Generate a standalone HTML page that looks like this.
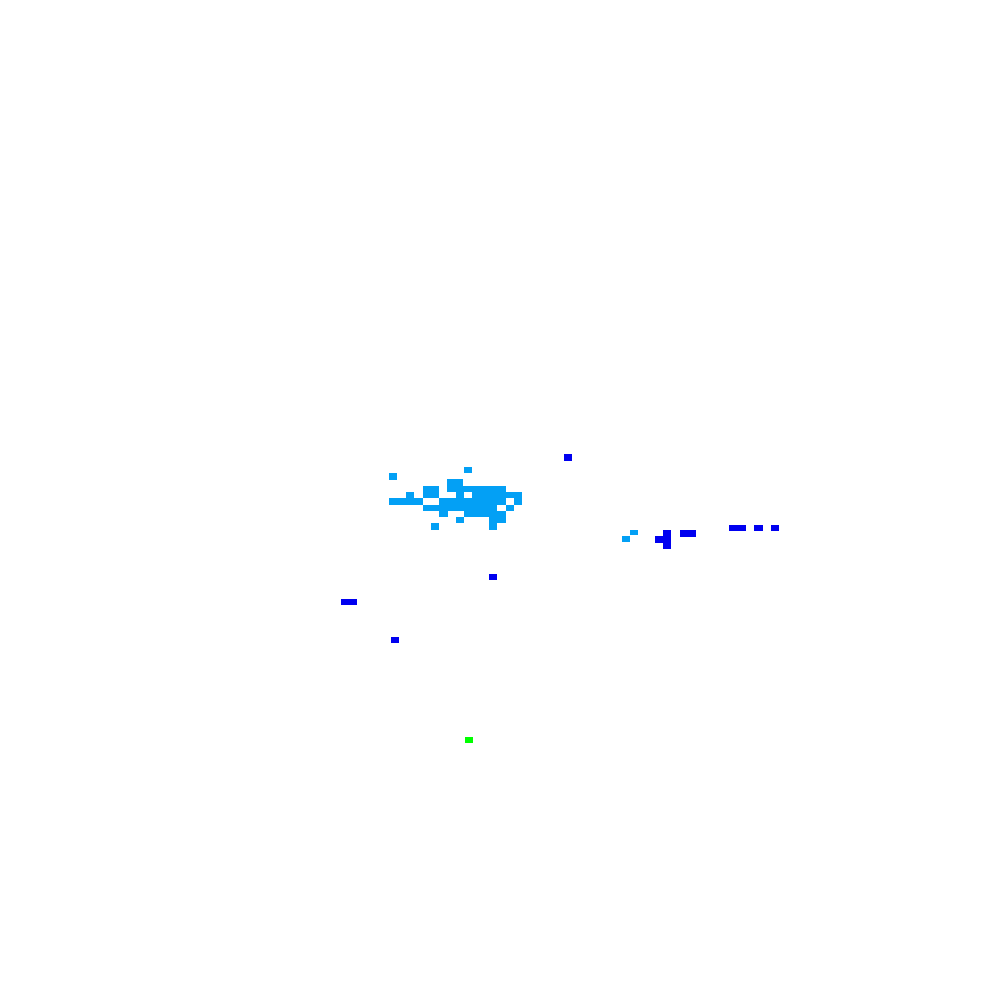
<!DOCTYPE html>
<html><head><style>html,body{margin:0;padding:0;background:#fff}svg{display:block}</style></head><body>
<svg width="1000" height="1000" viewBox="0 0 1000 1000" xmlns="http://www.w3.org/2000/svg" shape-rendering="crispEdges">
<rect width="1000" height="1000" fill="#fff"/>
<g fill="#03a0f5">
<rect x="389" y="473" width="8" height="7"/>
<rect x="464" y="467" width="8" height="6"/>
<rect x="447" y="479" width="16" height="7"/>
<rect x="423" y="486" width="16" height="6"/>
<rect x="447" y="486" width="59" height="6"/>
<rect x="406" y="492" width="8" height="6"/>
<rect x="423" y="492" width="16" height="6"/>
<rect x="456" y="492" width="8" height="6"/>
<rect x="472" y="492" width="50" height="6"/>
<rect x="389" y="498" width="34" height="7"/>
<rect x="439" y="498" width="67" height="7"/>
<rect x="514" y="498" width="8" height="7"/>
<rect x="423" y="505" width="74" height="6"/>
<rect x="506" y="505" width="8" height="6"/>
<rect x="439" y="511" width="9" height="6"/>
<rect x="464" y="511" width="42" height="6"/>
<rect x="456" y="517" width="8" height="6"/>
<rect x="489" y="517" width="17" height="6"/>
<rect x="431" y="523" width="8" height="7"/>
<rect x="489" y="523" width="8" height="7"/>
<rect x="630" y="530" width="8" height="5"/>
<rect x="622" y="536" width="8" height="6"/>
</g>
<g fill="#0000f0">
<rect x="564" y="454" width="8" height="7"/>
<rect x="663" y="530" width="8" height="19"/>
<rect x="655" y="536" width="8" height="7"/>
<rect x="680" y="530" width="16" height="7"/>
<rect x="729" y="525" width="17" height="6"/>
<rect x="754" y="525" width="9" height="6"/>
<rect x="771" y="525" width="8" height="6"/>
<rect x="489" y="574" width="8" height="6"/>
<rect x="341" y="599" width="16" height="6"/>
<rect x="391" y="637" width="8" height="6"/>
</g>
<rect x="465" y="737" width="8" height="6" fill="#00ff00"/>
</svg>
</body></html>
